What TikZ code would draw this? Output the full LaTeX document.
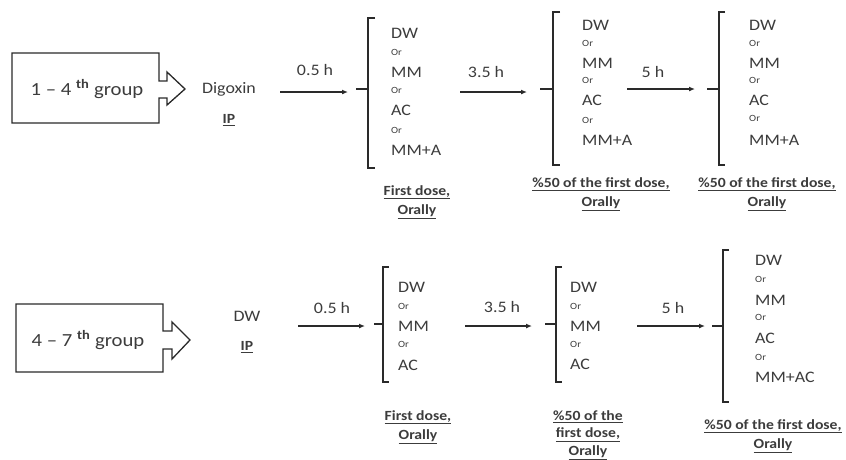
\documentclass[tikz,border=0pt]{standalone}
\usepackage{fontspec}
\setmainfont{Carlito}[FakeStretch=1.12]
\usetikzlibrary{arrows.meta}
\definecolor{txt}{HTML}{3C3C3C}
\definecolor{ln}{HTML}{2A2A2A}
\begin{document}
\begin{tikzpicture}[x=1pt,y=-1pt,
  item/.style={font=\fontsize{16}{18}\selectfont, text=txt, inner sep=0pt, anchor=west},
  orx/.style={font=\fontsize{9.5}{11}\selectfont, text=txt, inner sep=0pt, anchor=west},
  ctext/.style={font=\fontsize{16}{18}\selectfont, text=txt, inner sep=0pt},
  grp/.style={font=\fontsize{18.5}{21}\selectfont, text=txt, inner sep=0pt},
  ip/.style={font=\bfseries\fontsize{14}{16}\selectfont, text=txt, inner sep=0pt},
  note/.style={font=\bfseries\fontsize{14}{19}\selectfont, text=txt, inner sep=0pt, align=center},
  blk/.style={draw=ln, line width=1.3pt, line join=miter},
  brk/.style={draw=ln, line width=1.2pt},
  conn/.style={draw=ln, line width=1.3pt, -{Latex[length=6pt,width=5pt]}}
]
\useasboundingbox (0,0) rectangle (846,459);

% ---------------- Row 1 ----------------
\draw[blk] (12,53) -- (159,53) -- (159,81) -- (167,81) -- (167,72) -- (185,89)
  -- (167,105) -- (167,98) -- (159,98) -- (159,123) -- (12,123) -- cycle;
\node[grp] (g1) at (87,89) {1 – 4 \textsuperscript{\textbf{th}} group};
\node[ctext] (d1) at (229,89) {Digoxin};
\node[ip] (ip1) at (229,120) {\underline{IP}};

\coordinate (a1s) at (280,92); \coordinate (a1e) at (348,92);
\draw[conn] (a1s) -- (a1e);
\node[ctext] (t1) at (315,70) {0.5 h};

\coordinate (b1t) at (368,18); \coordinate (b1b) at (368,168); \coordinate (b1m) at (368,89);
\draw[brk] ([xshift=7pt]b1t) -- (b1t) -- (b1b) -- ([xshift=7pt]b1b);
\draw[brk] (b1m) -- ([xshift=-12pt]b1m);
\node[item] (c1a) at (391,33) {DW};
\node[orx] (c1o1) at (391,52) {Or};
\node[item] (c1b) at (391,72) {MM};
\node[orx] (c1o2) at (391,90) {Or};
\node[item] (c1c) at (391,110) {AC};
\node[orx] (c1o3) at (391,130) {Or};
\node[item] (c1d) at (391,150) {MM+A};
\node[note] (n1) at (417,202) {\underline{First dose,}\\\underline{Orally}};

\coordinate (a2s) at (460,92); \coordinate (a2e) at (527,92);
\draw[conn] (a2s) -- (a2e);
\node[ctext] (t2) at (486,72) {3.5 h};

\coordinate (b2t) at (553,12); \coordinate (b2b) at (553,165); \coordinate (b2m) at (553,89);
\draw[brk] ([xshift=7pt]b2t) -- (b2t) -- (b2b) -- ([xshift=7pt]b2b);
\draw[brk] (b2m) -- ([xshift=-13pt]b2m);
\node[item] (c2a) at (582,25) {DW};
\node[orx] (c2o1) at (582,43) {Or};
\node[item] (c2b) at (582,63) {MM};
\node[orx] (c2o2) at (582,80) {Or};
\node[item] (c2c) at (582,100) {AC};
\node[orx] (c2o3) at (582,120) {Or};
\node[item] (c2d) at (582,140) {MM+A};
\node[note] (n2) at (601,194) {\underline{\%50 of the first dose,}\\\underline{Orally}};

\coordinate (a3s) at (627,89); \coordinate (a3e) at (695,89);
\draw[conn] (a3s) -- (a3e);
\node[ctext] (t3) at (653,72) {5 h};

\coordinate (b3t) at (719,12); \coordinate (b3b) at (719,165); \coordinate (b3m) at (719,89);
\draw[brk] ([xshift=6pt]b3t) -- (b3t) -- (b3b) -- ([xshift=6pt]b3b);
\draw[brk] (b3m) -- ([xshift=-12pt]b3m);
\node[item] (c3a) at (749,25) {DW};
\node[orx] (c3o1) at (749,43) {Or};
\node[item] (c3b) at (749,63) {MM};
\node[orx] (c3o2) at (749,80) {Or};
\node[item] (c3c) at (749,100) {AC};
\node[orx] (c3o3) at (749,118) {Or};
\node[item] (c3d) at (749,140) {MM+A};
\node[note] (n3) at (767,194) {\underline{\%50 of the first dose,}\\\underline{Orally}};

% ---------------- Row 2 ----------------
\draw[blk] (16,304) -- (163,304) -- (163,331) -- (172,331) -- (172,322) -- (190,340)
  -- (172,359) -- (172,349) -- (163,349) -- (163,372) -- (16,372) -- cycle;
\node[grp] (g2) at (88,340) {4 – 7 \textsuperscript{\textbf{th}} group};
\node[ctext] (d2) at (247,316) {DW};
\node[ip] (ip2) at (247,347) {\underline{IP}};

\coordinate (a4s) at (298,326); \coordinate (a4e) at (365,326);
\draw[conn] (a4s) -- (a4e);
\node[ctext] (t4) at (332,308) {0.5 h};

\coordinate (b4t) at (383,267); \coordinate (b4b) at (383,382); \coordinate (b4m) at (383,324);
\draw[brk] ([xshift=6pt]b4t) -- (b4t) -- (b4b) -- ([xshift=6pt]b4b);
\draw[brk] (b4m) -- ([xshift=-9pt]b4m);
\node[item] (c4a) at (398,287) {DW};
\node[orx] (c4o1) at (398,306) {Or};
\node[item] (c4b) at (398,326) {MM};
\node[orx] (c4o2) at (398,344) {Or};
\node[item] (c4c) at (398,365) {AC};
\node[note] (n4) at (418,427) {\underline{First dose,}\\\underline{Orally}};

\coordinate (a5s) at (465,326); \coordinate (a5e) at (532,326);
\draw[conn] (a5s) -- (a5e);
\node[ctext] (t5) at (502,307) {3.5 h};

\coordinate (b5t) at (556,267); \coordinate (b5b) at (556,382); \coordinate (b5m) at (556,324);
\draw[brk] ([xshift=6pt]b5t) -- (b5t) -- (b5b) -- ([xshift=6pt]b5b);
\draw[brk] (b5m) -- ([xshift=-11pt]b5m);
\node[item] (c5a) at (570,287) {DW};
\node[orx] (c5o1) at (570,306) {Or};
\node[item] (c5b) at (570,326) {MM};
\node[orx] (c5o2) at (570,344) {Or};
\node[item] (c5c) at (570,364) {AC};
\node[note, font=\bfseries\fontsize{14}{17.5}\selectfont] (n5) at (588,435) {\underline{\%50 of the}\\\underline{first dose,}\\\underline{Orally}};

\coordinate (a6s) at (637,326); \coordinate (a6e) at (705,326);
\draw[conn] (a6s) -- (a6e);
\node[ctext] (t6) at (673,308) {5 h};

\coordinate (b6t) at (723,250); \coordinate (b6b) at (723,402); \coordinate (b6m) at (723,326);
\draw[brk] ([xshift=6pt]b6t) -- (b6t) -- (b6b) -- ([xshift=6pt]b6b);
\draw[brk] (b6m) -- ([xshift=-11pt]b6m);
\node[item] (c6a) at (755,260) {DW};
\node[orx] (c6o1) at (755,279) {Or};
\node[item] (c6b) at (755,300) {MM};
\node[orx] (c6o2) at (755,317) {Or};
\node[item] (c6c) at (755,338) {AC};
\node[orx] (c6o3) at (755,357) {Or};
\node[item] (c6d) at (755,377) {MM+AC};
\node[note] (n6) at (773,436) {\underline{\%50 of the first dose,}\\\underline{Orally}};
\end{tikzpicture}
\end{document}
